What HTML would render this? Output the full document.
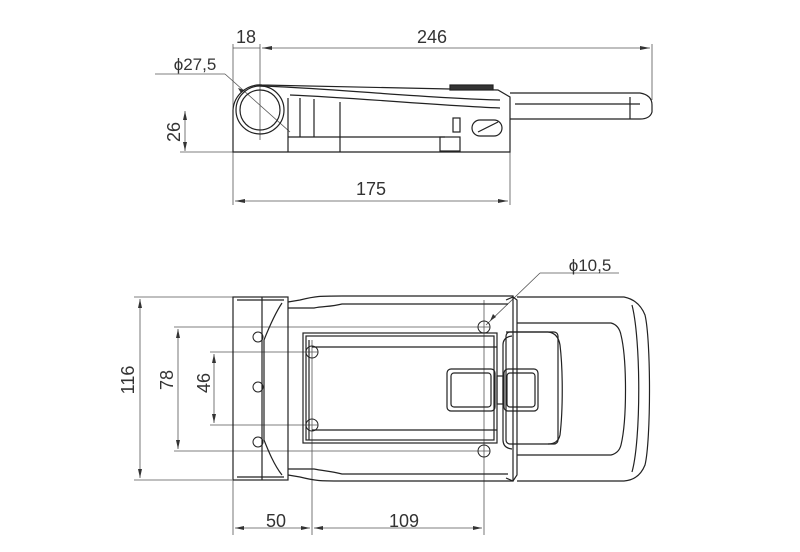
<!DOCTYPE html>
<html><head><style>body{margin:0;background:#fff}svg{display:block}</style></head><body>
<svg width="800" height="552" viewBox="0 0 800 552" xmlns="http://www.w3.org/2000/svg" font-family="Liberation Sans, sans-serif" fill="none" stroke="#333" stroke-width="1">
<!-- TOP VIEW -->
<g stroke="#555" stroke-width="0.8">
<line x1="233" y1="44" x2="233" y2="205"/>
<line x1="260" y1="44" x2="260" y2="140"/>
<line x1="652" y1="44" x2="652" y2="100"/>
<line x1="510" y1="150" x2="510" y2="205"/>
<line x1="233" y1="48" x2="260" y2="48"/>
<line x1="262" y1="48" x2="650" y2="48"/>
<line x1="235" y1="201" x2="508" y2="201"/>
<line x1="185" y1="111" x2="185" y2="151"/>
<line x1="180" y1="152" x2="233" y2="152"/>
<line x1="155" y1="74" x2="225" y2="74"/>
<line x1="225" y1="74" x2="290" y2="132"/>
</g>
<g fill="#333" stroke="none">
<path d="M262 48 l10 -2 v4z"/><path d="M650 48 l-10 -2 v4z"/>
<path d="M235 201 l10 -2 v4z"/><path d="M508 201 l-10 -2 v4z"/>
<path d="M185 111 l-2 9 h4z"/><path d="M185 151 l-2 -9 h4z"/>
<path d="M238 88 l6 2 l-3 3z"/>
</g>
<g stroke="#222" stroke-width="1.2">
<circle cx="260" cy="110" r="24"/>
<circle cx="260" cy="110" r="20"/>
<path d="M233 152 V110 A27 27 0 0 1 262 85 L450 89 L498 90 L510 97 V145 L510 152 Z"/>
<path d="M260 86 C330 88 420 98 500 100"/>
<path d="M290 95 C360 98 430 105 500 108"/>
<line x1="288" y1="98" x2="288" y2="152"/>
<line x1="300" y1="98" x2="300" y2="137"/>
<line x1="314" y1="99" x2="314" y2="137"/>
<line x1="340" y1="102" x2="340" y2="152"/>
<line x1="288" y1="137" x2="445" y2="137"/>
<rect x="440" y="137" width="20" height="14"/>
<rect x="453" y="118" width="7" height="14"/>
<rect x="472" y="120" width="30" height="16" rx="8"/>
<path d="M478 132 L498 122"/>
<rect x="450" y="85" width="43" height="5" fill="#333"/>
<path d="M510 93 H640 Q652 95 652 105 V112 Q650 119 640 119 H510"/>
<line x1="515" y1="104" x2="640" y2="104"/>
<line x1="630" y1="97" x2="630" y2="119"/>
</g>
<g fill="#333" stroke="none" font-size="18">
<text x="246" y="43" text-anchor="middle">18</text>
<text x="432" y="43" text-anchor="middle">246</text>
<text x="371" y="195" text-anchor="middle">175</text>
<text x="195" y="70" text-anchor="middle" font-size="17">ϕ27,5</text>
<text transform="translate(180,132) rotate(-90)" text-anchor="middle">26</text>
</g>
<!-- BOTTOM VIEW -->
<g stroke="#555" stroke-width="0.8">
<line x1="134" y1="297" x2="240" y2="297"/>
<line x1="134" y1="480" x2="232" y2="480"/>
<line x1="140" y1="299" x2="140" y2="478"/>
<line x1="174" y1="327" x2="490" y2="327"/>
<line x1="174" y1="451" x2="490" y2="451"/>
<line x1="178" y1="329" x2="178" y2="449"/>
<line x1="210" y1="352" x2="318" y2="352"/>
<line x1="210" y1="425" x2="318" y2="425"/>
<line x1="214" y1="354" x2="214" y2="423"/>
<line x1="233" y1="480" x2="233" y2="535"/>
<line x1="312" y1="340" x2="312" y2="535"/>
<line x1="484" y1="300" x2="484" y2="535"/>
<line x1="235" y1="528" x2="310" y2="528"/>
<line x1="314" y1="528" x2="482" y2="528"/>
<line x1="619" y1="273" x2="540" y2="273"/>
<line x1="540" y1="273" x2="486" y2="325"/>
</g>
<g fill="#333" stroke="none">
<path d="M140 299 l-2 9 h4z"/><path d="M140 478 l-2 -9 h4z"/>
<path d="M178 329 l-2 9 h4z"/><path d="M178 449 l-2 -9 h4z"/>
<path d="M214 354 l-2 9 h4z"/><path d="M214 423 l-2 -9 h4z"/>
<path d="M235 528 l9 -2 v4z"/><path d="M310 528 l-9 -2 v4z"/>
<path d="M314 528 l9 -2 v4z"/><path d="M482 528 l-9 -2 v4z"/>
<path d="M490 321 l3 -7 l3 3z"/>
</g>
<g stroke="#222" stroke-width="1.2">
<rect x="233" y="297" width="55" height="183"/>
<line x1="262" y1="297" x2="262" y2="480"/>
<line x1="237" y1="300" x2="284" y2="300"/>
<line x1="237" y1="477" x2="284" y2="477"/>
<path d="M288 302 L300 300 C316 296 320 296 342 296 H513 V481 H342 C320 481 316 481 300 477 L288 475"/>
<path d="M282 303 C274 315 268 330 264 340 V440 C268 450 274 465 282 475"/>
<path d="M288 308 H314 C324 306 330 307 342 304 H508"/>
<path d="M288 469 H314 C324 471 330 471 342 474 H508"/>
<rect x="303" y="333" width="194" height="110"/>
<rect x="306" y="336" width="188" height="104"/>
<line x1="312" y1="347" x2="497" y2="347"/>
<line x1="312" y1="430" x2="497" y2="430"/>
<line x1="309" y1="340" x2="309" y2="440"/>
<rect x="447" y="369" width="48" height="42" rx="4"/>
<rect x="451" y="373" width="40" height="34" rx="3"/>
<rect x="497" y="376" width="6" height="28"/>
<path d="M506 300 L513 297 L517 300 V475 L513 481 L506 478"/>
<path d="M517 297 H624 Q639 300 645 315 C651 340 651 440 645 465 Q639 480 624 481 H517"/>
<path d="M517 323 H611 Q619 325 621 335 C627 360 627 420 621 445 Q619 453 611 455 H517"/>
<path d="M512 336 Q503 337 503 345 V440 Q503 448 512 449"/>
<rect x="506" y="332" width="52" height="112" rx="4"/>
<path d="M506 332 H548 Q558 333 560 345 C563 370 563 410 560 435 Q558 444 548 444"/>
<rect x="504" y="369" width="34" height="42" rx="4"/>
<rect x="507" y="373" width="28" height="34" rx="3"/>
<path d="M632 305 C641 340 641 440 632 472"/>
<g stroke-width="1">
<circle cx="258" cy="337" r="5"/><circle cx="258" cy="387" r="5"/><circle cx="258" cy="442" r="5"/>
<circle cx="312" cy="352" r="6"/><circle cx="312" cy="425" r="6"/>
<circle cx="484" cy="327" r="6"/><circle cx="484" cy="451" r="6"/>
</g>
</g>
<g fill="#333" stroke="none" font-size="18">
<text x="590" y="271" text-anchor="middle" font-size="17">ϕ10,5</text>
<text x="276" y="527" text-anchor="middle">50</text>
<text x="404" y="527" text-anchor="middle">109</text>
<text transform="translate(134,380) rotate(-90)" text-anchor="middle">116</text>
<text transform="translate(173,380) rotate(-90)" text-anchor="middle">78</text>
<text transform="translate(210,383) rotate(-90)" text-anchor="middle">46</text>
</g>
</svg>
</body></html>
